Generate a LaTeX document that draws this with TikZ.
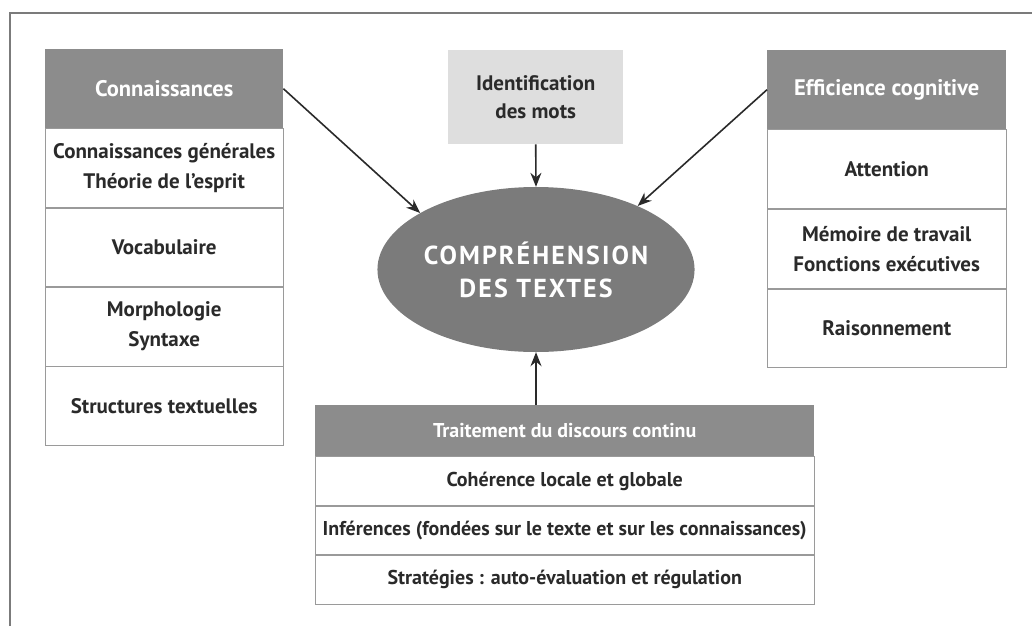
\documentclass[tikz,border=0pt]{standalone}
\usepackage{fontspec}
\setmainfont{PT Sans}
\usepackage{tikz}
\usetikzlibrary{arrows.meta,positioning,shapes.geometric}
\definecolor{hdrgray}{HTML}{8C8C8C}
\definecolor{ovalgray}{HTML}{7B7B7B}
\definecolor{lightgray}{HTML}{DEDEDE}
\definecolor{linegray}{HTML}{9A9A9A}
\definecolor{textgray}{HTML}{2A2A2A}
\tikzset{>/.tip={Stealth[length=14pt,width=11pt]},
  hdr/.style={fill=hdrgray, text=white, inner sep=0pt, align=center,
    font=\bfseries\fontsize{22.5}{28}\selectfont},
  cell/.style={draw=linegray, line width=0.8pt, fill=white, text=textgray, inner sep=0pt,
    align=center, font=\bfseries\fontsize{21}{30}\selectfont},
  link/.style={->, line width=1.6pt, draw=textgray}}

\begin{document}
\begin{tikzpicture}[x=1pt,y=-1pt]
\useasboundingbox (0,0) rectangle (1032,626);
\draw[linegray!80!black, line width=2pt] (10,626) -- (10,13) -- (1032,13);

\node[hdr, anchor=north west, minimum width=238pt, minimum height=79pt] (con) at (45,49) {Connaissances};
\node[cell, below=0pt of con, minimum width=238pt, minimum height=78.5pt] (con1) {Connaissances générales\\Théorie de l’esprit};
\node[cell, below=0pt of con1, minimum width=238pt, minimum height=78.5pt] (con2) {Vocabulaire};
\node[cell, below=0pt of con2, minimum width=238pt, minimum height=78.5pt] (con3) {Morphologie\\Syntaxe};
\node[cell, below=0pt of con3, minimum width=238pt, minimum height=78.5pt] (con4) {Structures textuelles};

\node[hdr, anchor=north west, fill=lightgray, text=textgray, minimum width=175pt, minimum height=94pt,
  font=\bfseries\fontsize{21}{28}\selectfont] (ident) at (448,50) {Identification\\des mots};

\node[hdr, anchor=north west, minimum width=239pt, minimum height=79pt] (eff) at (767,50) {Efficience cognitive};
\node[cell, below=0pt of eff, minimum width=239pt, minimum height=79pt] (eff1) {Attention};
\node[cell, below=0pt of eff1, minimum width=239pt, minimum height=79pt] (eff2) {Mémoire de travail\\Fonctions exécutives};
\node[cell, below=0pt of eff2, minimum width=239pt, minimum height=78pt] (eff3) {Raisonnement};

\node[ellipse, fill=ovalgray, text=white, inner sep=0pt, minimum width=302pt, minimum height=165pt,
  align=center, font=\bfseries\fontsize{26}{33}\selectfont\addfontfeature{LetterSpace=8}] (comp) at (536,269.5)
  {COMPRÉHENSION\\DES TEXTES};

\node[hdr, anchor=north west, minimum width=499pt, minimum height=51pt,
  font=\bfseries\fontsize{20}{24}\selectfont] (trt) at (315,405) {Traitement du discours continu};
\node[cell, below=0pt of trt, minimum width=499pt, minimum height=48.5pt, font=\bfseries\fontsize{20}{24}\selectfont] (trt1) {Cohérence locale et globale};
\node[cell, below=0pt of trt1, minimum width=499pt, minimum height=48.5pt, font=\bfseries\fontsize{20}{24}\selectfont] (trt2) {Inférences (fondées sur le texte et sur les connaissances)};
\node[cell, below=0pt of trt2, minimum width=499pt, minimum height=49pt, font=\bfseries\fontsize{20}{24}\selectfont] (trt3) {Stratégies : auto-évaluation et régulation};

\foreach \a/\b in {con.east/comp.154, eff.west/comp.32, ident.south/comp.north}
{
  \draw[link] (\a) -- (\b);
}
\draw[link] (comp.south |- trt.north) -- (comp.south);
\end{tikzpicture}
\end{document}
